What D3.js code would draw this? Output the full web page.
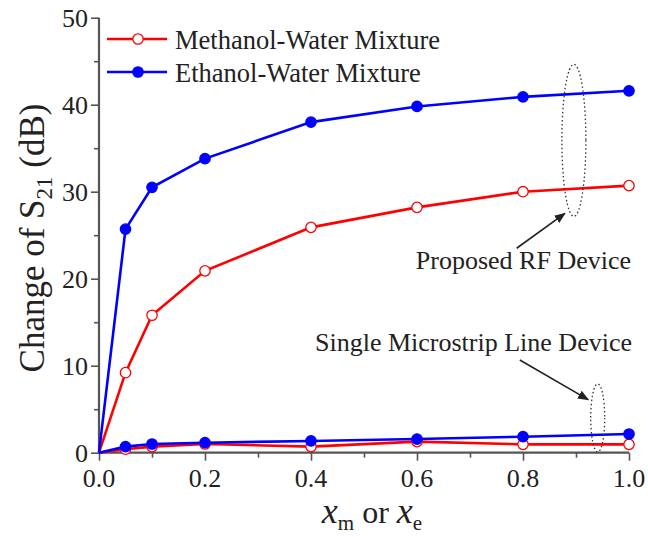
<!DOCTYPE html>
<html><head><meta charset="utf-8">
<script src="https://cdn.jsdelivr.net/npm/d3@7"></script>
<style>
html,body{margin:0;padding:0;background:#fff;}
text{font-family:"Liberation Serif","Times New Roman",serif;fill:#222;}
</style></head>
<body><svg id="c" width="648" height="537"></svg>
<script>
const xVals = [0, 0.05, 0.1, 0.2, 0.4, 0.6, 0.8, 1.0];
const methanolRF = [0, 9.2, 15.8, 20.9, 25.9, 28.2, 30.0, 30.7];
const ethanolRF = [0, 25.7, 30.5, 33.8, 38.0, 39.8, 40.9, 41.6];
const methanolMS = [0, 0.4, 0.7, 1.0, 0.7, 1.27, 0.96, 0.96];
const ethanolMS = [0, 0.7, 1.0, 1.15, 1.35, 1.57, 1.84, 2.15];
const xTicks = [0, 0.2, 0.4, 0.6, 0.8, 1.0];
const yTicks = [0, 10, 20, 30, 40, 50];
const legendLabels = ["Methanol-Water Mixture", "Ethanol-Water Mixture"];

const svg = d3.select("#c");
const x = d3.scaleLinear().domain([0, 1]).range([99, 629]);
const y = d3.scaleLinear().domain([0, 50]).range([452.7, 17.7]);
const axisColor = "#555";

// axes
const xAxis = svg.append("g").attr("transform", `translate(0,${y(0)})`)
  .call(d3.axisBottom(x).tickValues(d3.range(0, 1.01, 0.1)).tickSize(7).tickFormat(""));
xAxis.selectAll(".tick line").attr("y2", (d,i)=> i%2===0 ? 8 : 5);
const yAxis = svg.append("g").attr("transform", `translate(${x(0)},0)`)
  .call(d3.axisLeft(y).tickValues(d3.range(0, 51, 5)).tickSize(7).tickFormat(""));
yAxis.selectAll(".tick line").attr("x2", (d,i)=> i%2===0 ? -8 : -5);
[xAxis, yAxis].forEach(g=>{
  g.select(".domain").attr("stroke", axisColor).attr("stroke-width", 2.2);
  g.selectAll(".tick line").attr("stroke", axisColor).attr("stroke-width", 1.6);
});
xAxis.select(".domain").attr("d", `M${x(0)},0H${x(1)}`);
yAxis.select(".domain").attr("d", `M0,${y(0)}V${y(50)}`);

svg.append("g").selectAll("text").data(xTicks).join("text")
  .attr("x", d=>x(d)).attr("y", 487).attr("text-anchor","middle")
  .attr("font-size", 26).text(d=>d.toFixed(1));
svg.append("g").selectAll("text").data(yTicks).join("text")
  .attr("x", 88).attr("y", d=>y(d)+9).attr("text-anchor","end")
  .attr("font-size", 26).text(d=>d);

// axis titles
const yl = svg.append("text").attr("transform", "translate(44,238) rotate(-90)")
  .attr("text-anchor","middle").attr("font-size", 35);
yl.append("tspan").text("Change of S");
yl.append("tspan").attr("font-size", 23).attr("dy", 8).text("21");
yl.append("tspan").attr("dy", -8).text(" (dB)");

const xl = svg.append("text").attr("x", 372).attr("y", 523).attr("text-anchor","middle").attr("font-size", 32);
xl.append("tspan").attr("font-style","italic").attr("font-size", 36).text("x");
xl.append("tspan").attr("font-size", 21).attr("dy", 7).text("m");
xl.append("tspan").attr("dy", -7).text(" or ");
xl.append("tspan").attr("font-style","italic").attr("font-size", 36).text("x");
xl.append("tspan").attr("font-size", 21).attr("dy", 7).text("e");

// series
const series = [
  {vals: methanolRF, color: "#f00", open: true},
  {vals: ethanolRF, color: "#00f", open: false},
  {vals: methanolMS, color: "#f00", open: true},
  {vals: ethanolMS, color: "#00f", open: false}
];
const line = d3.line().x((d,i)=>x(xVals[i])).y(d=>y(d));
series.forEach(s=>{
  svg.append("path").attr("d", line(s.vals)).attr("fill","none")
    .attr("stroke", s.color).attr("stroke-width", 2.6);
});
series.forEach(s=>{
  svg.append("g").selectAll("circle").data(s.vals.slice(1)).join("circle")
    .attr("cx",(d,i)=>x(xVals[i+1])).attr("cy",d=>y(d)).attr("r",5.2)
    .attr("fill", s.open ? "#fff" : s.color).attr("stroke", s.color).attr("stroke-width", 1.3);
});

// legend
const leg = [{c:"#f00", open:true, y:39}, {c:"#00f", open:false, y:72}];
leg.forEach((l,i)=>{
  svg.append("line").attr("x1",107).attr("x2",167).attr("y1",l.y).attr("y2",l.y)
    .attr("stroke",l.c).attr("stroke-width",2.6);
  svg.append("circle").attr("cx",138).attr("cy",l.y).attr("r",5.2)
    .attr("fill", l.open ? "#fff" : l.c).attr("stroke", l.c).attr("stroke-width",1.3);
  svg.append("text").attr("x",175).attr("y",l.y+9.5).attr("font-size",26.5).text(legendLabels[i]);
});

// annotations
svg.append("defs").append("marker").attr("id","ah").attr("viewBox","0 0 10 10")
  .attr("refX",9).attr("refY",5).attr("markerWidth",7).attr("markerHeight",7).attr("orient","auto")
  .append("path").attr("d","M0,1L10,5L0,9Z").attr("fill","#222");

svg.append("ellipse").attr("cx", x(0.896)).attr("cy", y(35.9)).attr("rx", 12).attr("ry", 76)
  .attr("fill","none").attr("stroke","#333").attr("stroke-width",1.3).attr("stroke-dasharray","1.5,2.5");
svg.append("ellipse").attr("cx", x(0.941)).attr("cy", y(4.0)).attr("rx", 7).attr("ry", 34)
  .attr("fill","none").attr("stroke","#333").attr("stroke-width",1.3).attr("stroke-dasharray","1.5,2.5");

svg.append("line").attr("x1", x(0.788)).attr("y1", y(23.5)).attr("x2", x(0.879)).attr("y2", y(27.5))
  .attr("stroke","#222").attr("stroke-width",1.6).attr("marker-end","url(#ah)");
svg.append("line").attr("x1", x(0.794)).attr("y1", y(10.65)).attr("x2", x(0.923)).attr("y2", y(6.1))
  .attr("stroke","#222").attr("stroke-width",1.6).attr("marker-end","url(#ah)");

svg.append("text").attr("x",631).attr("y",269).attr("text-anchor","end").attr("font-size",26).text("Proposed RF Device");
svg.append("text").attr("x",632).attr("y",350.5).attr("text-anchor","end").attr("font-size",26).text("Single Microstrip Line Device");
</script></body></html>
